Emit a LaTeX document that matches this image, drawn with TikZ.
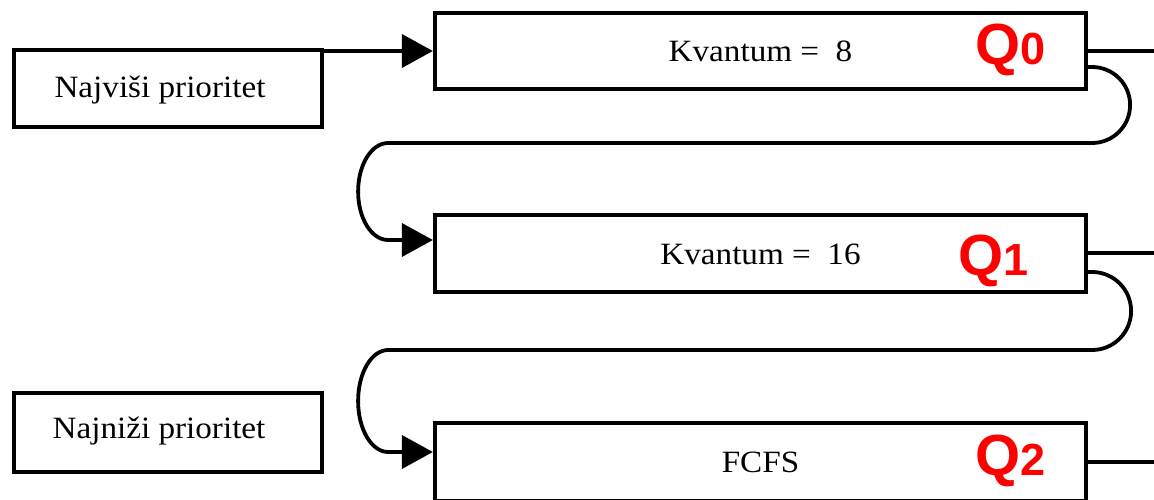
\documentclass[tikz,border=0pt]{standalone}
\usepackage{fontspec}
\setmainfont{Liberation Serif}
\newfontfamily\qfont{Liberation Sans}
\usetikzlibrary{arrows.meta}
\definecolor{qred}{RGB}{255,0,0}
\tikzset{
  qbox/.style={draw, line width=4.2pt, minimum width=651pt, inner sep=0pt},
  prio/.style={draw, line width=4.2pt, minimum width=308pt, inner sep=0pt},
  boxtext/.style={inner sep=0pt, font=\fontsize{31}{31}\selectfont},
  conn/.style={line width=3.8pt},
  arr/.style={line width=3.8pt, -{Triangle[length=31pt,width=33pt]}},
  qlabel/.style={inner sep=0pt, anchor=base west, text=qred, font=\qfont\bfseries}
}
\newcommand{\stretchtext}[1]{\scalebox{1.07}[1]{#1}}
\newcommand{\qlab}[1]{{\fontsize{58}{58}\selectfont Q}{\fontsize{45}{45}\selectfont #1}}
\begin{document}
\begin{tikzpicture}[x=1pt,y=1pt]
\useasboundingbox (0,0) rectangle (1154,499);
\clip (0,0) rectangle (1154,499);
% priority boxes
\node[prio, minimum height=77pt] (nv) at (168,410.5) {};
\node[boxtext] (nvt) at ([xshift=-8pt,yshift=-2pt]nv.center) {\stretchtext{Najviši prioritet}};
\node[prio, minimum height=79pt] (nn) at (168,66.5) {};
\node[boxtext] (nnt) at ([xshift=-9pt,yshift=1pt]nn.center) {\stretchtext{Najniži prioritet}};
% queue boxes
\node[qbox, minimum height=76pt] (q0) at (760.5,448) {};
\node[boxtext] (q0t) at (q0.center) {\stretchtext{Kvantum = \ 8}};
\node[qbox, minimum height=77pt] (q1) at (760.5,245.5) {};
\node[boxtext] (q1t) at ([yshift=-1pt]q1.center) {\stretchtext{Kvantum = \ 16}};
\node[qbox, minimum height=78pt] (q2) at (760.5,37) {};
\node[boxtext] (q2t) at (q2.center) {\stretchtext{FCFS}};
% Q labels
\node[qlabel] (l0) at (975,434) {\qlab{0}};
\node[qlabel] (l1) at (958,224) {\qlab{1}};
\node[qlabel] (l2) at (975,24) {\qlab{2}};
% free ends
\coordinate (rend) at (1160,0);
\coordinate (in1) at ([yshift=13.5pt]q1.west);
\coordinate (in2) at ([yshift=10pt]q2.west);
% entry arrow
\draw[arr] (nv.north east |- q0.west) -- (q0.west);
% outgoing lines
\draw[conn] (q0.east) -- (q0.east -| rend);
\draw[conn] ([yshift=0.5pt]q1.east) -- ([yshift=0.5pt]q1.east -| rend);
\draw[conn] (q2.east) -- (q2.east -| rend);
% loops
\draw[arr] ([yshift=-16pt]q0.east) -- ++(4pt,0)
  arc[start angle=90, end angle=-90, radius=38pt]
  -- ++(-704pt,0)
  arc[start angle=90, end angle=270, x radius=30pt, y radius=48.5pt]
  -- (in1);
\draw[arr] ([yshift=-18.5pt]q1.east) -- ++(4pt,0)
  arc[start angle=90, end angle=-90, radius=39pt]
  -- ++(-704pt,0)
  arc[start angle=90, end angle=270, x radius=30pt, y radius=51pt]
  -- (in2);
\end{tikzpicture}
\end{document}
